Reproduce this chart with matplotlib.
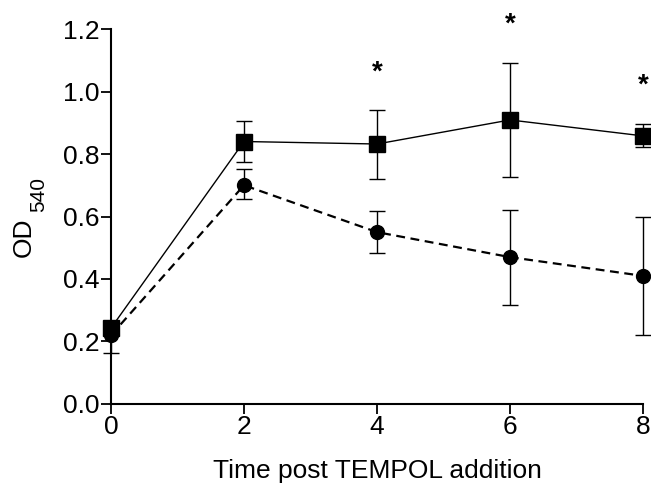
import matplotlib
matplotlib.use("Agg")
import matplotlib.pyplot as plt

plt.rcParams['font.family'] = ['Liberation Sans', 'DejaVu Sans']

time = [0, 2, 4, 6, 8]
sq_mean = [0.243, 0.84, 0.832, 0.909, 0.858]
sq_err_lo = [0.02, 0.066, 0.112, 0.183, 0.036]
sq_err_hi = [0.02, 0.066, 0.109, 0.182, 0.038]
ci_mean = [0.22, 0.70, 0.55, 0.47, 0.41]
ci_err_lo = [0.057, 0.044, 0.067, 0.153, 0.19]
ci_err_hi = [0.02, 0.052, 0.068, 0.151, 0.188]
star_x = [4, 6, 8]
star_y = [1.06, 1.215, 1.02]

W, H = 651, 496
fig = plt.figure(figsize=(W / 100, H / 100), dpi=100)
ax = fig.add_axes([0.1705, 0.1855, 0.8172, 0.756])

ax.errorbar(time, ci_mean, yerr=[ci_err_lo, ci_err_hi], fmt='o', color='black',
            markersize=10, linestyle='--', linewidth=1.6, dashes=(4, 2.5),
            capsize=6, elinewidth=1.0, capthick=1.0, clip_on=False, zorder=3)
ax.errorbar(time, sq_mean, yerr=[sq_err_lo, sq_err_hi], fmt='s', color='black',
            markersize=11.5, linestyle='-', linewidth=1.0,
            capsize=6, elinewidth=1.0, capthick=1.0, clip_on=False, zorder=4)

for x, y in zip(star_x, star_y):
    ax.text(x, y, '*', ha='center', va='center', fontsize=20, fontweight='bold',
            clip_on=False)

ax.set_xlim(0, 8)
ax.set_ylim(0, 1.2)
ax.set_xticks([0, 2, 4, 6, 8])
ax.set_yticks([0.0, 0.2, 0.4, 0.6, 0.8, 1.0, 1.2])
ax.set_yticklabels(['0.0', '0.2', '0.4', '0.6', '0.8', '1.0', '1.2'])
ax.tick_params(direction='out', length=7, width=1.3, labelsize=19, pad=1)
for s in ['top', 'right']:
    ax.spines[s].set_visible(False)
for s in ['left', 'bottom']:
    ax.spines[s].set_linewidth(1.5)

ax.set_xlabel('Time post TEMPOL addition', fontsize=19, labelpad=14)

# y-axis label: OD with subscript 540
fig.text(23.5 / W, 1 - 237 / H, 'OD', rotation=90, fontsize=19,
         ha='center', va='center')
fig.text(38.5 / W, 1 - 194 / H, '540', rotation=90, fontsize=15,
         ha='center', va='center')

fig.savefig('out.png', dpi=100)
